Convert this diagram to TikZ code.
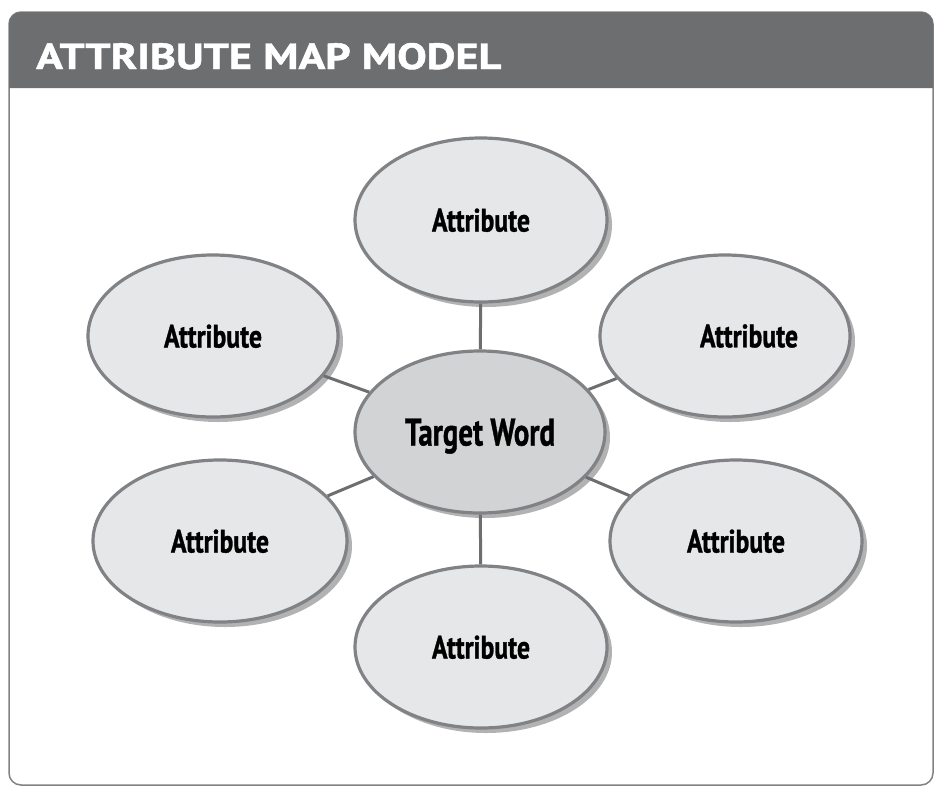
\documentclass[tikz,border=0pt]{standalone}
\usepackage{fontspec}
\setmainfont{PT Sans}[BoldFeatures={FakeBold=1.2}]
\usetikzlibrary{shapes.geometric,shadows}
\definecolor{ellfill}{HTML}{E6E7E8}
\definecolor{midfill}{HTML}{D1D3D4}
\definecolor{edgegray}{HTML}{808285}
\definecolor{linegray}{HTML}{6D6E70}
\definecolor{headgray}{HTML}{6D6E70}
\newcommand\fitbox[3]{\resizebox{#1}{#2}{#3}}
\tikzset{
  attr/.style={ellipse, draw=edgegray, line width=3.2pt, fill=ellfill,
    inner sep=0pt, minimum width=250pt, minimum height=162pt,
    text depth=0pt, font=\bfseries,
    drop shadow={shadow xshift=5pt, shadow yshift=-5pt, fill=black, opacity=0.3}},
  mid/.style={attr, fill=midfill},
  conn/.style={draw=linegray, line width=3pt}
}
\begin{document}
\begin{tikzpicture}[x=1pt,y=-1pt]
\useasboundingbox (0,0) rectangle (936,787);
\fill[white] (0,0) rectangle (936,787);
% frame
\draw[edgegray, line width=1.5pt, rounded corners=12pt] (9,12) rectangle (933,785);
\fill[headgray] (9,88) [rounded corners=12pt] -- (9,12) -- (933,12) [sharp corners] -- (933,88) -- cycle;
\node[anchor=base west, inner sep=0pt, text=white, font=\bfseries] (title) at (36,69)
  {\fitbox{465pt}{26pt}{ATTRIBUTE MAP MODEL}};
% nodes
\node[mid] (c) at (480,432) {\fitbox{150pt}{27pt}{Target Word}};
\node[attr, minimum width=252pt, minimum height=164pt] (t) at (481,220) {\fitbox{98pt}{23pt}{Attribute}};
\node[attr] (ul) at (213,336) {\fitbox{98pt}{23pt}{Attribute}};
\node[attr, label={[xshift=24pt, font=\bfseries]center:\fitbox{98pt}{23pt}{Attribute}}] (ur) at (725,336) {};
\node[attr, minimum width=254pt] (ll) at (220,541) {\fitbox{98pt}{23pt}{Attribute}};
\node[attr, minimum width=252pt] (lr) at (736,541) {\fitbox{98pt}{23pt}{Attribute}};
\node[attr, minimum width=252pt] (b) at (481,647) {\fitbox{98pt}{23pt}{Attribute}};
% connectors
\draw[conn] (t) -- (c);
\draw[conn] (ul) -- (c);
\draw[conn] (ur) -- (c);
\draw[conn] (ll) -- (c);
\draw[conn] (lr) -- (c);
\draw[conn] (b) -- (c);
\end{tikzpicture}
\end{document}
